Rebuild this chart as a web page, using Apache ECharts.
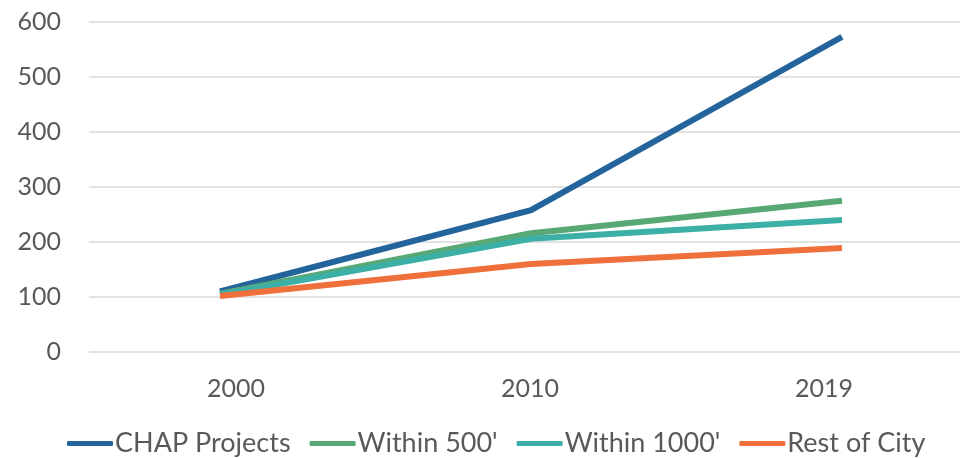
<!DOCTYPE html>
<html>
<head>
<meta charset="utf-8">
<script src="https://cdn.jsdelivr.net/npm/echarts@6/dist/echarts.min.js"></script>
<style>html,body{margin:0;padding:0;background:#fff}#c{width:960px;height:458px}</style>
</head>
<body>
<div id="c"></div>
<script>
const categories = ['2000', '2010', '2019'];
const seriesNames = ['CHAP Projects', "Within 500'", "Within 1000'", 'Rest of City'];
const chapProjects = [110, 258, 573];
const within500 = [106, 216, 275];
const within1000 = [104, 206, 240];
const restOfCity = [102, 160, 189];
const yTicks = [0, 100, 200, 300, 400, 500, 600];

const colors = ['#24649C', '#58A876', '#3CB0A6', '#F0703C'];
const values = [chapProjects, within500, within1000, restOfCity];
const font = 'Lato';

const chart = echarts.init(document.getElementById('c'), null, {renderer: 'canvas'});
chart.setOption({
  animation: false,
  textStyle: {fontFamily: font},
  grid: {left: 89, width: 882, top: 22, bottom: 106, containLabel: false, outerBoundsMode: 'none'},
  legend: {
    left: 62, top: 425,
    itemWidth: 46, itemHeight: 5, itemGap: 19,
    icon: 'roundRect',
    textStyle: {fontFamily: font, fontSize: 27, color: '#595959', padding: [0, 0, 0, -3]},
    data: seriesNames
  },
  xAxis: [
    {
      type: 'category', data: categories, boundaryGap: true,
      axisLine: {show: false}, axisTick: {show: false}, splitLine: {show: false},
      axisLabel: {fontFamily: font, fontSize: 25, color: '#595959', margin: 24}
    },
    {
      type: 'value', min: -0.4213, max: 2.4149, show: false,
      splitLine: {show: false}
    }
  ],
  yAxis: {
    type: 'value', min: yTicks[0], max: yTicks[yTicks.length - 1], interval: 100,
    axisLine: {show: false}, axisTick: {show: false},
    splitLine: {lineStyle: {color: '#d9d9d9', width: 1.5}},
    axisLabel: {fontFamily: font, fontSize: 25, color: '#595959', margin: 28}
  },
  series: seriesNames.map((n, i) => ({
    name: n, type: 'line', xAxisIndex: 1,
    data: values[i].map((v, j) => [j, v]),
    symbol: 'none', color: colors[i],
    lineStyle: {width: 6, color: colors[i], cap: 'butt', join: 'miter'},
    itemStyle: {color: colors[i]}
  }))
});
</script>
</body>
</html>
